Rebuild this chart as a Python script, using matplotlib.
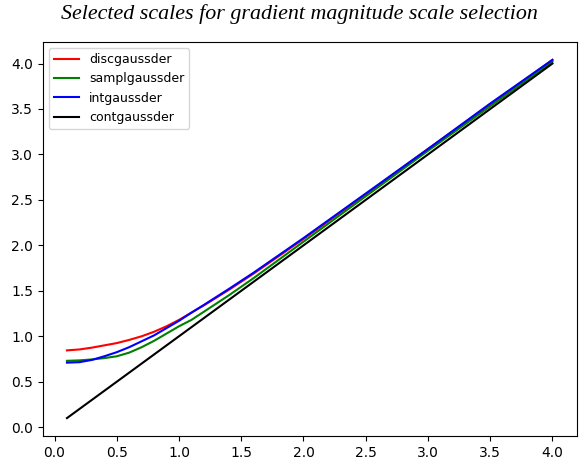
import matplotlib
matplotlib.use('Agg')
import matplotlib.pyplot as plt

# scale values
sigma = [0.1, 0.2, 0.3, 0.4, 0.5, 0.6, 0.7, 0.8, 0.9, 1.0, 1.1, 1.2, 1.4, 1.6,
         2.0, 2.5, 3.0, 3.5, 4.0]
disc = [0.845, 0.855, 0.875, 0.90, 0.925, 0.96, 1.00, 1.05, 1.11, 1.18, 1.26,
        1.34, 1.51, 1.69, 2.07, 2.56, 3.06, 3.55, 4.04]
sampl = [0.73, 0.735, 0.745, 0.76, 0.78, 0.82, 0.88, 0.95, 1.03, 1.11, 1.18,
         1.27, 1.45, 1.64, 2.04, 2.54, 3.04, 3.53, 4.02]
intg = [0.71, 0.715, 0.74, 0.78, 0.825, 0.88, 0.945, 1.01, 1.09, 1.17, 1.26,
        1.345, 1.52, 1.70, 2.08, 2.57, 3.06, 3.56, 4.04]
cont = [0.1, 4.0]
cont_x = [0.1, 4.0]

fig = plt.figure(figsize=(5.8, 4.63), dpi=100)
ax = fig.add_axes([0.0736, 0.0583, 0.9207, 0.851])

ax.plot(sigma, disc, color='red', label='discgaussder')
ax.plot(sigma, sampl, color='green', label='samplgaussder')
ax.plot(sigma, intg, color='blue', label='intgaussder')
ax.plot(cont_x, cont, color='black', label='contgaussder')

ax.legend(loc='upper left', fontsize=9)

fig.text(0.516, 0.97, 'Selected scales for gradient magnitude scale selection',
         ha='center', va='center', fontsize=15.8, style='italic',
         family='Liberation Serif')

fig.savefig('out.png', dpi=100)
